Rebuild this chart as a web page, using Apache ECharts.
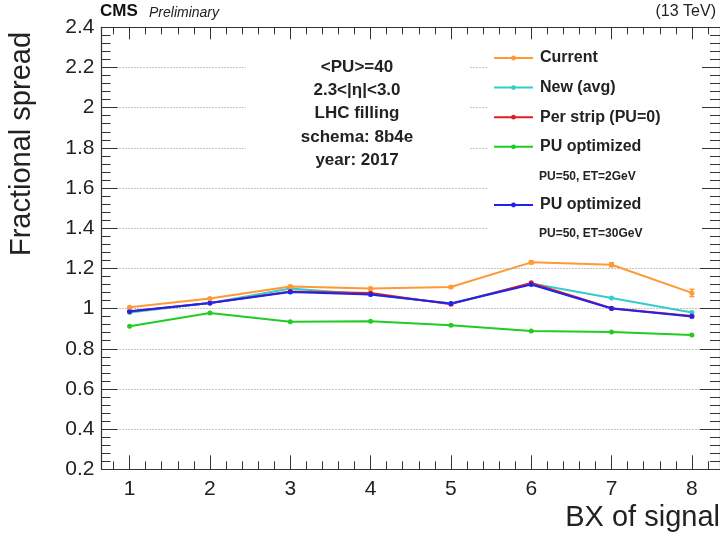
<!DOCTYPE html>
<html>
<head>
<meta charset="utf-8">
<script src="https://cdn.jsdelivr.net/npm/echarts@6/dist/echarts.min.js"></script>
<style>
  html, body { margin: 0; padding: 0; background: #fff; }
  #main { width: 720px; height: 535px; }
</style>
</head>
<body>
<div id="main"></div>
<script>
// data
var bx = [1, 2, 3, 4, 5, 6, 7, 8];
var current    = [1.006, 1.05, 1.11, 1.10, 1.107, 1.23, 1.218, 1.078];
var currentErr = [0.004, 0.004, 0.005, 0.005, 0.005, 0.008, 0.010, 0.018];
var newAvg     = [0.98, 1.028, 1.10, 1.07, 1.025, 1.125, 1.053, 0.98];
var perStrip   = [0.985, 1.028, 1.085, 1.077, 1.022, 1.128, 1.002, 0.963];
var puOpt2     = [0.912, 0.978, 0.935, 0.937, 0.917, 0.888, 0.883, 0.868];
var puOpt30    = [0.987, 1.028, 1.083, 1.07, 1.025, 1.12, 1.0, 0.96];

var xTicks = [1, 2, 3, 4, 5, 6, 7, 8];
var infoLines = ['<PU>=40', '2.3<|η|<3.0', 'LHC filling', 'schema: 8b4e', 'year: 2017'];
var infoY = [67, 90, 113, 137, 160];

var xMin = 0.65, xMax = 8.35;
var xMinor = [];
for (var t = 0.8; t < xMax; t += 0.2) {
    var r = Math.round(t * 10) / 10;
    if (Math.abs(r - Math.round(r)) > 0.01) xMinor.push(r);
}

function pairs(v) {
    return bx.map(function (x, i) { return [x, v[i]]; });
}

var font = 'Liberation Sans, Arial, Helvetica, sans-serif';
var frameCol = '#333';
var gridRect = { left: 101.5, top: 27.3, right: 0, bottom: 65.7 };

var myChart = echarts.init(document.getElementById('main'));

var option = {
    backgroundColor: '#fff',
    animation: false,
    textStyle: { fontFamily: font },
    grid: [
        Object.assign({ containLabel: false }, gridRect),
        Object.assign({ containLabel: false }, gridRect)
    ],
    xAxis: [
        {   // main bottom
            gridIndex: 0, type: 'value', position: 'bottom', min: xMin, max: xMax,
            axisLine: { show: true, onZero: false, lineStyle: { color: frameCol, width: 1.2 } },
            axisTick: { show: true, inside: true, length: 14, customValues: xTicks, lineStyle: { color: frameCol } },
            axisLabel: { show: true, customValues: xTicks, fontSize: 21, color: '#222', margin: 9 },
            splitLine: { show: false }
        },
        {   // main top
            gridIndex: 0, type: 'value', position: 'top', min: xMin, max: xMax,
            axisLine: { show: true, onZero: false, lineStyle: { color: frameCol, width: 1.2 } },
            axisTick: { show: true, inside: true, length: 12, customValues: xTicks, lineStyle: { color: frameCol } },
            axisLabel: { show: false },
            splitLine: { show: false }
        },
        {   // minor bottom
            gridIndex: 1, type: 'value', position: 'bottom', min: xMin, max: xMax,
            axisLine: { show: false, onZero: false },
            axisTick: { show: true, inside: true, length: 8, customValues: xMinor, lineStyle: { color: frameCol } },
            axisLabel: { show: false },
            splitLine: { show: false }
        },
        {   // minor top
            gridIndex: 1, type: 'value', position: 'top', min: xMin, max: xMax,
            axisLine: { show: false, onZero: false },
            axisTick: { show: true, inside: true, length: 7, customValues: xMinor, lineStyle: { color: frameCol } },
            axisLabel: { show: false },
            splitLine: { show: false }
        }
    ],
    yAxis: [
        {
            gridIndex: 0, type: 'value', position: 'left', min: 0.2, max: 2.4, interval: 0.2,
            axisLine: { show: true, onZero: false, lineStyle: { color: frameCol, width: 1.2 } },
            axisTick: { show: true, inside: true, length: 16, lineStyle: { color: frameCol } },
            minorTick: { show: true, splitNumber: 5, length: 9, lineStyle: { color: frameCol } },
            axisLabel: { fontSize: 21, color: '#222', margin: 7 },
            splitLine: { show: true, lineStyle: { type: [1, 2], color: '#888', width: 1 } }
        },
        {
            gridIndex: 0, type: 'value', position: 'right', min: 0.2, max: 2.4, interval: 0.2,
            axisLine: { show: true, onZero: false, lineStyle: { color: frameCol, width: 1.2 } },
            axisTick: { show: true, inside: true, length: 20, lineStyle: { color: frameCol } },
            minorTick: { show: true, splitNumber: 5, length: 10, lineStyle: { color: frameCol } },
            axisLabel: { show: false },
            splitLine: { show: false }
        },
        {
            gridIndex: 1, type: 'value', min: 0.2, max: 2.4, show: false
        }
    ],
    legend: [
        {
            data: ['Current', 'New (avg)', 'Per strip (PU=0)', 'PU optimized'],
            orient: 'vertical', left: 493, top: 50, padding: 0,
            itemWidth: 39, itemHeight: 6, itemGap: 13.6,
            textStyle: { fontSize: 16, fontWeight: 'bold', color: '#222', lineHeight: 16, padding: [0, 0, 0, 2] },
            selectedMode: false
        },
        {
            data: ['PU optimized (30GeV)'],
            orient: 'vertical', left: 493, top: 197, padding: 0,
            itemWidth: 39, itemHeight: 6,
            formatter: function () { return 'PU optimized'; },
            textStyle: { fontSize: 16, fontWeight: 'bold', color: '#222', lineHeight: 16, padding: [0, 0, 0, 2] },
            selectedMode: false
        }
    ],
    graphic: [
        // white boxes behind the info text and the legend
        { type: 'rect', z: 1, shape: { x: 246, y: 45, width: 224, height: 132 }, style: { fill: '#fff' } },
        { type: 'rect', z: 1, shape: { x: 487, y: 40, width: 215, height: 208 }, style: { fill: '#fff' } },
        { type: 'text', z: 5, left: 100, top: 3, style: { text: 'CMS', font: 'bold 17px ' + font, fill: '#111' } },
        { type: 'text', z: 5, left: 149, top: 6, style: { text: 'Preliminary', font: 'italic 14px ' + font, fill: '#222' } },
        { type: 'text', z: 5, right: 4, top: 4, style: { text: '(13 TeV)', font: '16px ' + font, fill: '#222' } },
        { type: 'text', z: 5, x: 539, y: 177, style: { text: 'PU=50, ET=2GeV', font: 'bold 12px ' + font, fill: '#222', verticalAlign: 'middle' } },
        { type: 'text', z: 5, x: 539, y: 234, style: { text: 'PU=50, ET=30GeV', font: 'bold 12px ' + font, fill: '#222', verticalAlign: 'middle' } },
        { type: 'text', z: 5, x: 22, y: 144, rotation: Math.PI / 2, style: { text: 'Fractional spread', font: '29px ' + font, fill: '#222', align: 'center', verticalAlign: 'middle' } },
        { type: 'text', z: 5, x: 720, y: 518, style: { text: 'BX of signal', font: '29px ' + font, fill: '#222', align: 'right', verticalAlign: 'middle' } }
    ].concat(infoLines.map(function (s, i) {
        return { type: 'text', z: 5, x: 357, y: infoY[i], style: { text: s, font: 'bold 17px ' + font, fill: '#222', align: 'center', verticalAlign: 'middle' } };
    })),
    series: [
        {
            name: 'New (avg)', type: 'line', data: pairs(newAvg), color: '#33cccc',
            symbol: 'circle', symbolSize: 5, lineStyle: { width: 2 }
        },
        {
            name: 'Per strip (PU=0)', type: 'line', data: pairs(perStrip), color: '#e02020',
            symbol: 'circle', symbolSize: 5, lineStyle: { width: 2 }
        },
        {
            name: 'PU optimized (30GeV)', type: 'line', data: pairs(puOpt30), color: '#2222ee',
            symbol: 'circle', symbolSize: 5, lineStyle: { width: 2 }
        },
        {
            name: 'PU optimized', type: 'line', data: pairs(puOpt2), color: '#22cc22',
            symbol: 'circle', symbolSize: 5, lineStyle: { width: 2 }
        },
        {
            name: 'Current', type: 'line', data: pairs(current), color: '#ff9933',
            symbol: 'circle', symbolSize: 5, lineStyle: { width: 2 }
        },
        {
            name: 'Current err', type: 'custom', color: '#ff9933',
            data: bx.map(function (x, i) { return [x, current[i] - currentErr[i], current[i] + currentErr[i]]; }),
            renderItem: function (params, api) {
                var lo = api.coord([api.value(0), api.value(1)]);
                var hi = api.coord([api.value(0), api.value(2)]);
                var st = { stroke: '#ff9933', lineWidth: 1.5 };
                return {
                    type: 'group', children: [
                        { type: 'line', shape: { x1: lo[0], y1: lo[1], x2: hi[0], y2: hi[1] }, style: st },
                        { type: 'line', shape: { x1: lo[0] - 2.5, y1: lo[1], x2: lo[0] + 2.5, y2: lo[1] }, style: st },
                        { type: 'line', shape: { x1: hi[0] - 2.5, y1: hi[1], x2: hi[0] + 2.5, y2: hi[1] }, style: st }
                    ]
                };
            },
            z: 3
        }
    ]
};

myChart.setOption(option);
</script>
</body>
</html>
